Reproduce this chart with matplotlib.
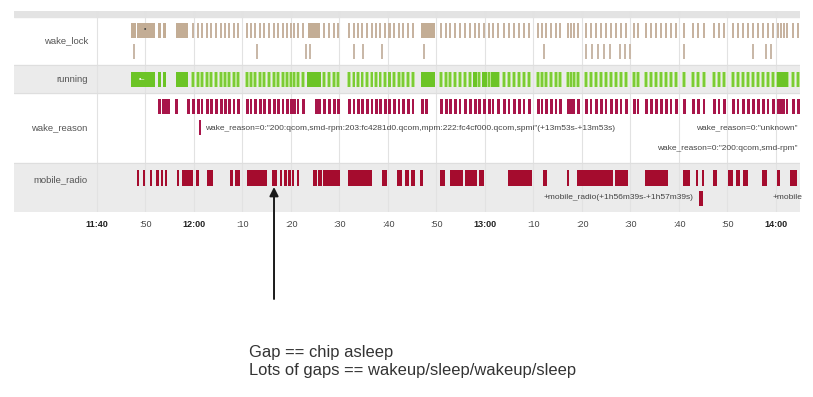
import matplotlib.pyplot as plt

plt.rcParams['font.family'] = ['Liberation Sans', 'DejaVu Sans']

# minutes after 11:40
tick_minutes = [0, 10, 20, 30, 40, 50, 60, 70, 80, 90, 100, 110, 120, 130, 140]
tick_labels = ['11:40', ':50', '12:00', ':10', ':20', ':30', ':40', ':50',
               '13:00', ':10', ':20', ':30', ':40', ':50', '14:00']
bold_labels = ['11:40', '12:00', '13:00', '14:00']

# short wakeups seen in wake_lock / running / wake_reason
wakeups = [19.6, 20.6, 21.4, 22.5, 23.3, 24.3, 25.4, 26.2, 27.0, 28.0, 28.9,
           30.7, 31.5, 32.4, 33.4, 34.2, 35.3, 36.3, 37.1, 38.1, 39.0, 39.8,
           40.4, 41.2, 42.3, 46.6, 47.6, 48.7, 49.5,
           51.8, 52.7, 53.6, 54.5, 55.5, 56.4, 57.3, 58.2, 59.2, 60.1, 61.0,
           62.0, 62.9, 63.9, 64.9,
           70.7, 71.8, 72.6, 73.6, 74.6, 75.7, 76.7, 77.7, 78.6, 79.6, 80.6,
           81.4, 82.5, 83.7, 84.7, 85.8, 86.8, 87.8, 88.9,
           90.7, 91.5, 92.4, 93.4, 94.4, 95.3, 96.9, 97.5, 98.1, 99.0,
           100.6, 101.6, 102.7, 103.7, 104.7, 105.8, 106.8, 107.8, 108.9,
           110.5, 111.3, 113.0, 114.0, 115.1, 116.1, 117.1, 118.1, 119.2,
           120.8, 122.7, 123.7, 124.9, 127.0, 128.0, 129.1,
           130.9, 131.9, 133.0, 134.0, 135.1, 136.1, 137.1, 138.1, 139.2,
           140.2, 140.8, 141.4, 142.0, 143.3, 144.3]

# (start, duration) in minutes
wake_lock_blocks = [(7.0, 1.0), (8.2, 3.8), (12.6, 0.6), (13.6, 0.6),
                    (16.3, 2.5), (43.5, 2.5), (66.8, 2.9)]
wake_lock_second = [7.4, 32.8, 42.9, 43.7, 52.8, 54.6, 58.6, 67.2, 92.0,
                    100.6, 101.8, 103.1, 104.3, 105.6, 107.6, 108.7, 109.7,
                    120.8, 135.1, 137.7, 138.8]

running_blocks = [(7.0, 5.0), (12.6, 0.7), (13.6, 0.7), (16.3, 2.5),
                  (43.3, 2.9), (66.8, 2.9), (77.5, 0.9), (79.4, 1.0),
                  (81.2, 1.6), (140.2, 2.3)]

wake_reason_extra = [12.6, 13.4, 14.0, 14.5, 16.1, 18.6, 45.0, 45.6, 66.9, 67.6]
wake_reason_marked = 21.0

mobile_radio = [(8.2, 0.5), (9.5, 0.5), (10.9, 0.5), (12.2, 0.5), (13.1, 0.5),
                (14.0, 0.5), (16.5, 0.5), (17.5, 2.3), (20.5, 0.6), (22.6, 1.3),
                (27.5, 0.5), (28.5, 1.0), (30.9, 4.2), (36.1, 1.0), (37.7, 0.5),
                (38.6, 0.5), (39.4, 0.5), (40.2, 0.5), (41.2, 0.5), (44.5, 0.9),
                (45.6, 0.8), (46.6, 3.5), (51.8, 4.9), (58.8, 1.0), (61.9, 1.0),
                (63.5, 0.8), (64.8, 0.8), (66.6, 0.6), (70.7, 1.1), (72.8, 2.6),
                (75.9, 2.5), (78.8, 1.0), (84.7, 5.0), (92.0, 0.8), (96.9, 0.4),
                (99.0, 7.4), (106.8, 2.7), (113.0, 4.7), (120.8, 1.5), (123.5, 0.5),
                (124.7, 0.5), (127.0, 0.8), (130.1, 1.0), (131.8, 0.8), (133.2, 1.0),
                (137.1, 1.0), (140.2, 0.6), (142.9, 1.4)]
mobile_radio_marked = (124.1, 0.8)

W, H = 813, 397
fig = plt.figure(figsize=(W / 100, H / 100), dpi=100)
ax = fig.add_axes([14 / W, 1 - 212 / H, (800 - 14) / W, (212 - 11) / H])
ax.set_xlim(-17.11, 144.95)
ax.set_ylim(212, 11)

# row backgrounds
ax.axhspan(11, 16.5, color='#e3e3e3', zorder=0)
ax.axhspan(65, 93, color='#ebebeb', zorder=0)
ax.axhspan(163, 212, color='#ebebeb', zorder=0)
for yy in [65, 93, 163]:
    ax.axhline(yy, color='#dedede', lw=0.8, zorder=0.6)
for t in tick_minutes:
    ax.axvline(t, color='#e2e2e2', lw=0.8, zorder=0.5)

# wake_lock
ax.broken_barh([(w, 0.42) for w in wakeups], (23, 15), facecolors='#c7b3a0', zorder=2)
ax.broken_barh(wake_lock_blocks, (23, 15), facecolors='#c3ad95', zorder=2)
ax.broken_barh([(w, 0.42) for w in wake_lock_second], (44, 15), facecolors='#c9b8a8', zorder=2)
ax.text(9.9, 30, '•', fontsize=5, color='#444', ha='center', va='center', zorder=3)

# running
ax.broken_barh([(w - 0.15, 0.75) for w in wakeups], (72, 15), facecolors='#b8e58f', zorder=2)
ax.broken_barh([(w, 0.45) for w in wakeups], (72, 15), facecolors='#7ccb35', zorder=2)
ax.broken_barh(running_blocks, (72, 15), facecolors='#6cc426', zorder=2)
ax.text(9.3, 79.5, '•–', fontsize=5, color='white', ha='center', va='center', zorder=3)

# wake_reason
ax.broken_barh([(w, 0.55) for w in wakeups + wake_reason_extra], (99, 15),
               facecolors='#a8154a', zorder=2)
ax.broken_barh([(wake_reason_marked, 0.45)], (120, 15), facecolors='#a8154a', zorder=2)
ax.text(22.3, 128, 'wake_reason=0:"200:qcom,smd-rpm:203:fc4281d0.qcom,mpm:222:'
        'fc4cf000.qcom,spmi"(+13m53s-+13m53s)', fontsize=6.0, color='#444',
        va='center', zorder=3)
ax.text(144.4, 128, 'wake_reason=0:"unknown"', fontsize=6.0, color='#444',
        ha='right', va='center', zorder=3)
ax.text(144.4, 149, 'wake_reason=0:"200:qcom,smd-rpm"', fontsize=6.0, color='#444',
        ha='right', va='center', zorder=3)

# mobile_radio
ax.broken_barh(mobile_radio, (170, 16), facecolors='#a50c2e', zorder=2)
ax.broken_barh([mobile_radio_marked], (191, 15), facecolors='#a50c2e', zorder=2)
ax.text(122.9, 198, '+mobile_radio(+1h56m39s-+1h57m39s)', fontsize=6.0,
        color='#444', ha='right', va='center', zorder=3)
ax.text(139.4, 198, '+mobile', fontsize=6.0, color='#444', va='center', zorder=3)

# row labels
for name, yy in [('wake_lock', 41), ('running', 79), ('wake_reason', 128),
                 ('mobile_radio', 180)]:
    ax.text(-1.9, yy, name, fontsize=6.8, color='#555', ha='right', va='center')

ax.set_xticks(tick_minutes)
ax.set_xticklabels(tick_labels, fontsize=6.5, color='#444')
for lab in ax.get_xticklabels():
    if lab.get_text() in bold_labels:
        lab.set_fontweight('bold')
        lab.set_color('#222')
ax.tick_params(axis='x', length=0, pad=6)
ax.set_yticks([])
for s in ax.spines.values():
    s.set_visible(False)

# arrow pointing at a gap
ax.annotate('', xy=(36.5, 187), xytext=(36.5, 299), annotation_clip=False,
            arrowprops=dict(arrowstyle='-|>', color='#1a1a1a', lw=1.4,
                            mutation_scale=13, shrinkA=0, shrinkB=0))

fig.text(249 / W, 1 - 353 / H, 'Gap == chip asleep', fontsize=11.9,
         color='#333', va='center')
fig.text(249 / W, 1 - 371 / H, 'Lots of gaps == wakeup/sleep/wakeup/sleep',
         fontsize=11.9, color='#333', va='center')

fig.savefig('out.png', dpi=100)
